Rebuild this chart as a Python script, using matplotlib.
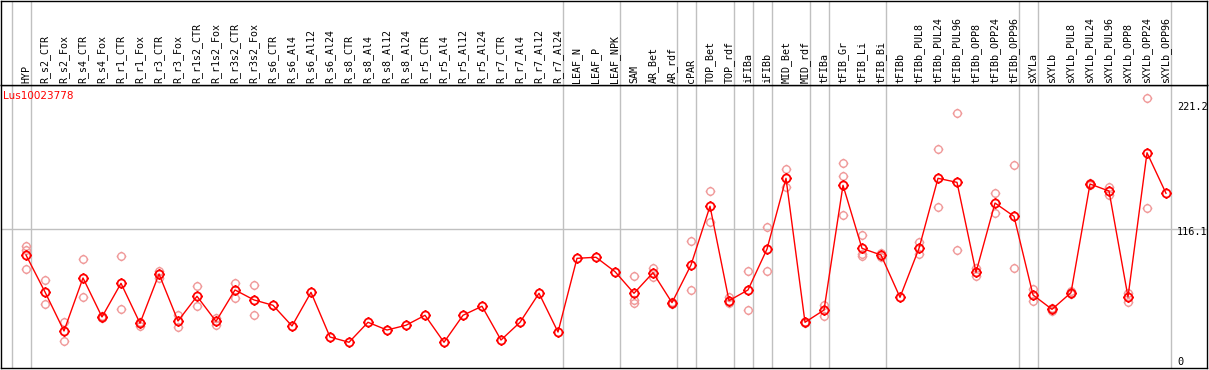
import numpy as np
import matplotlib
matplotlib.use("Agg")
import matplotlib.pyplot as plt
from matplotlib.path import Path

# sample names along the top
samples = [
    "HYP", "R_s2_CTR", "R_s2_Fox", "R_s4_CTR", "R_s4_Fox", "R_r1_CTR", "R_r1_Fox",
    "R_r3_CTR", "R_r3_Fox", "R_r1s2_CTR", "R_r1s2_Fox", "R_r3s2_CTR", "R_r3s2_Fox",
    "R_s6_CTR", "R_s6_Al4", "R_s6_Al12", "R_s6_Al24", "R_s8_CTR", "R_s8_Al4",
    "R_s8_Al12", "R_s8_Al24", "R_r5_CTR", "R_r5_Al4", "R_r5_Al12", "R_r5_Al24",
    "R_r7_CTR", "R_r7_Al4", "R_r7_Al12", "R_r7_Al24", "LEAF_N", "LEAF_P", "LEAF_NPK",
    "SAM", "AR_Bet", "AR_rdf", "cPAR", "TOP_Bet", "TOP_rdf", "iFIBa", "iFIBb",
    "MID_Bet", "MID_rdf", "tFIBa", "tFIB_Gr", "tFIB_Li", "tFIB_Bi", "tFIBb",
    "tFIBb_PUL8", "tFIBb_PUL24", "tFIBb_PUL96", "tFIBb_OPP8", "tFIBb_OPP24",
    "tFIBb_OPP96", "sXYLa", "sXYLb", "sXYLb_PUL8", "sXYLb_PUL24", "sXYLb_PUL96",
    "sXYLb_OPP8", "sXYLb_OPP24", "sXYLb_OPP96",
]

# mean expression per sample
means = [
    94.2, 63.1, 30.3, 74.9, 42.1, 70.4, 36.8, 78.2, 38.7, 59.5, 38.4, 64.8, 56.4,
    51.9, 34.5, 62.8, 25.2, 20.8, 37.6, 31.1, 35.1, 43.5, 20.8, 43.5, 51.1,
    22.7, 37.6, 62.0, 29.4, 91.4, 92.3, 80.2,
    62.0, 79.3, 54.1, 85.8, 135.2, 55.8, 64.8, 99.2,
    158.7, 37.6, 47.9, 152.8, 99.8, 94.2, 58.6,
    99.8, 158.7, 155.3, 79.6, 137.9,
    126.7, 60.6, 48.5, 62.5, 153.9, 148.0,
    58.9, 180.2, 146.1,
]

# individual replicates (empty list = none shown)
replicates = [
    [101.8, 98.4, 82.2], [72.9, 52.7], [37.8, 21.6], [90.6, 58.6], [42.9, 41.2],
    [93.4, 48.5], [38.1, 34.5], [81.0, 74.6], [44.0, 33.6], [67.9, 51.1],
    [41.5, 35.6], [70.4, 57.8], [68.7, 43.5],
    [], [], [], [], [], [], [], [], [], [], [], [], [], [], [], [], [], [], [],
    [76.5, 56.3, 54.1], [83.5, 75.9], [54.9, 53.2], [105.7, 64.8], [148.0, 122.2],
    [58.6, 53.6], [80.5, 47.9], [117.7, 80.5],
    [166.3, 151.1], [38.1, 37.0], [52.1, 43.1], [171.6, 160.4, 127.8],
    [111.0, 94.8, 93.6], [95.6, 92.3], [],
    [104.9, 95.0], [183.1, 134.3], [213.4, 98.2], [83.0, 76.8], [146.3, 129.3],
    [169.6, 83.0], [65.3, 55.8], [49.9, 47.4], [63.9, 61.1], [155.0, 152.8],
    [151.6, 144.7], [62.0, 54.7], [226.0, 133.5], [],
]

# sample groups are separated after these indices
group_ends = [-1, 0, 28, 31, 34, 35, 37, 38, 39, 41, 42, 45, 52, 53, 60]

gene = "Lus10023778"
ytick_vals = [221.2, 116.1, 0]

W, H = 1209, 370
GRAY = "#c0c0c0"
PINK = "#f09a9a"

# circle with four small ticks, like the original marker
circ = Path.unit_circle()
tick_verts = []
tick_codes = []
for dx, dy in [(0, 1), (0, -1), (1, 0), (-1, 0)]:
    tick_verts += [(dx, dy), (dx * 1.3, dy * 1.3)]
    tick_codes += [Path.MOVETO, Path.LINETO]
marker = Path.make_compound_path(circ, Path(tick_verts, tick_codes))

# pixel <-> data helpers
x0px, dxpx = 26, 19
def xidx(px):
    return (px - x0px) / dxpx

y0px, sy = 367, 1.189
def yval(py):
    return (y0px - py) / sy

fig = plt.figure(figsize=(W / 100, H / 100), dpi=100)

left, right = 1, 1207
top_line, bottom = 85, 368

ax = fig.add_axes([left / W, (H - bottom) / H, (right - left) / W, (bottom - top_line) / H])
hx = fig.add_axes([left / W, (H - top_line) / H, (right - left) / W, (top_line - 0.5) / H])

for a in (ax, hx):
    a.set_xlim(xidx(left), xidx(right))
    a.set_xticks([])
    a.set_yticks([])
    for s in a.spines.values():
        s.set_color("black")
        s.set_linewidth(1.0)
    for g in group_ends:
        a.axvline(g + 0.26, color=GRAY, lw=1, zorder=0)

ax.set_ylim(yval(bottom), yval(top_line))
hx.set_ylim(top_line, 0)

x = np.arange(len(samples))

ax.axhline(ytick_vals[1], color=GRAY, lw=1, zorder=0)

for i, reps in enumerate(replicates):
    if reps:
        ax.plot([i] * len(reps), reps, linestyle="none", marker=marker, ms=7,
                mfc="none", mec=PINK, mew=1.0, zorder=2)

ax.plot(x, means, color="red", lw=1, zorder=3)
ax.plot(x, means, linestyle="none", marker=marker, ms=7.5, mfc="none",
        mec="red", mew=1.3, zorder=4)

for i, name in enumerate(samples):
    hx.text(i, 83, name, rotation=90, ha="center", va="bottom",
            family="DejaVu Sans Mono", fontsize=7.2, color="black")

ax.text(xidx(3), yval(96), gene, color="red", fontsize=7.5, va="center", ha="left")

for v, off in zip(ytick_vals, [-3.5, -3.5, 5]):
    ax.annotate(f"{v:g}", xy=(xidx(1177), v), xytext=(0, off), textcoords="offset pixels",
                ha="left", va="center", family="DejaVu Sans Mono", fontsize=7.4,
                annotation_clip=False)

fig.savefig("out.png", dpi=100)
